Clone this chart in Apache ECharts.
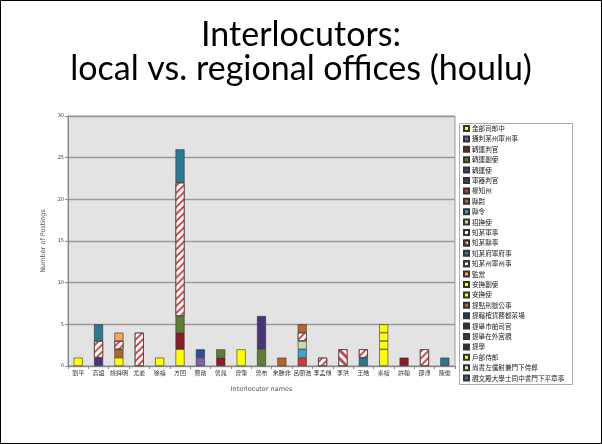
<!DOCTYPE html>
<html>
<head>
<meta charset="utf-8">
<script src="https://cdn.jsdelivr.net/npm/echarts@6/dist/echarts.min.js"></script>
<style>
  html, body { margin: 0; padding: 0; background: #fff; }
  #chart { width: 602px; height: 444px; }
</style>
</head>
<body>
<div id="chart"></div>
<script>
// interlocutors (x axis)
const names = ['劉平', '高誼', '姚舜明', '尤袤', '徐禧', '方回', '曹勛', '曾晁', '曾肇', '曾布',
	'朱勝非', '呂頤浩', '李孟傳', '李洪', '王皓', '秦檜', '許翰', '邵溥', '陳俊'];

// offices (legend, stacked bottom -> top)
const offices = ['金部司郎中', '通判某州軍州事', '轉運判官', '轉運副使', '轉運使', '軍器判官', '權知州',
	'縣尉', '縣令', '招撫使', '知某軍事', '知某縣事', '知某府軍府事', '知某州軍州事', '監當',
	'安撫副使', '安撫使', '提點刑獄公事', '提轄榷貨務都茶場', '提舉市舶司官', '提舉在外宮觀', '提學',
	'戶部侍郎', '尚書左僕射兼門下侍郎', '觀文殿大學士同中書門下平章事'];

const yTicks = [0, 5, 10, 15, 20, 25, 30];

// postings per office, one value per interlocutor
const s01 = [1, 0, 1, 0, 1, 2, 0, 0, 2, 0, 0, 0, 0, 0, 0, 2, 0, 0, 0];
const s02 = [0, 0, 0, 0, 0, 0, 1, 0, 0, 0, 0, 0, 0, 0, 0, 0, 0, 0, 0];
const s03 = [0, 0, 0, 0, 0, 2, 0, 1, 0, 0, 0, 0, 0, 0, 0, 0, 1, 0, 0];
const s04 = [0, 0, 0, 0, 0, 2, 0, 1, 0, 2, 0, 0, 0, 0, 0, 0, 0, 0, 0];
const s05 = [0, 0, 0, 0, 0, 0, 1, 0, 0, 0, 0, 0, 0, 0, 0, 0, 0, 0, 0];
const s06 = [0, 1, 0, 0, 0, 0, 0, 0, 0, 4, 0, 0, 0, 0, 0, 0, 0, 0, 0];
const s07 = [0, 0, 0, 0, 0, 0, 0, 0, 0, 0, 0, 1, 0, 0, 0, 0, 0, 0, 0];
const s08 = [0, 0, 1, 0, 0, 0, 0, 0, 0, 0, 0, 0, 0, 0, 0, 0, 0, 0, 0];
const s09 = [0, 0, 0, 0, 0, 0, 0, 0, 0, 0, 0, 1, 0, 0, 0, 0, 0, 0, 0];
const s10 = [0, 0, 0, 0, 0, 0, 0, 0, 0, 0, 0, 1, 0, 0, 0, 0, 0, 0, 0];
const s11 = [0, 2, 1, 4, 0, 16, 0, 0, 0, 0, 0, 1, 1, 0, 0, 0, 0, 2, 0];
const s12 = [0, 0, 0, 0, 0, 0, 0, 0, 0, 0, 0, 0, 0, 2, 0, 0, 0, 0, 0];
const s13 = [0, 2, 0, 0, 0, 4, 0, 0, 0, 0, 0, 0, 0, 0, 1, 0, 0, 0, 0];
const s14 = [0, 0, 0, 0, 0, 0, 0, 0, 0, 0, 0, 0, 0, 0, 1, 0, 0, 0, 0];
const s15 = [0, 0, 1, 0, 0, 0, 0, 0, 0, 0, 0, 0, 0, 0, 0, 0, 0, 0, 0];
const s16 = [0, 0, 0, 0, 0, 0, 0, 0, 0, 0, 0, 0, 0, 0, 0, 1, 0, 0, 0];
const s17 = [0, 0, 0, 0, 0, 0, 0, 0, 0, 0, 0, 0, 0, 0, 0, 1, 0, 0, 0];
const s18 = [0, 0, 0, 0, 0, 0, 0, 0, 0, 0, 1, 1, 0, 0, 0, 0, 0, 0, 0];
const s19 = [0, 0, 0, 0, 0, 0, 0, 0, 0, 0, 0, 0, 0, 0, 0, 0, 0, 0, 0];
const s20 = [0, 0, 0, 0, 0, 0, 0, 0, 0, 0, 0, 0, 0, 0, 0, 0, 0, 0, 0];
const s21 = [0, 0, 0, 0, 0, 0, 0, 0, 0, 0, 0, 0, 0, 0, 0, 0, 0, 0, 0];
const s22 = [0, 0, 0, 0, 0, 0, 0, 0, 0, 0, 0, 0, 0, 0, 0, 0, 0, 0, 0];
const s23 = [0, 0, 0, 0, 0, 0, 0, 0, 0, 0, 0, 0, 0, 0, 0, 1, 0, 0, 0];
const s24 = [0, 0, 0, 0, 0, 0, 0, 0, 0, 0, 0, 0, 0, 0, 0, 0, 0, 0, 0];
const s25 = [0, 0, 0, 0, 0, 0, 0, 0, 0, 0, 0, 0, 0, 0, 0, 0, 0, 0, 1];

const postings = [s01, s02, s03, s04, s05, s06, s07, s08, s09, s10, s11, s12, s13,
	s14, s15, s16, s17, s18, s19, s20, s21, s22, s23, s24, s25];

const colors = ['#ffff00', '#7f62a8', '#8c1c24', '#5f7d34', '#2e4f8f', '#4a3479', '#d23a3a',
	'#b4672c', '#3aa6d8', '#c6ddab', '#ffffff', '#ffffff', '#2b7a94', '#ffffff', '#f6a55a',
	'#ffff00', '#ffff00', '#b9652f', '#1f3f6f', '#2f2f5f', '#3a3a3a', '#1e2f4f', '#ffff00',
	'#e8e8a0', '#2d7590'];

// red diagonal stripes
const hatchUp = { symbol: 'rect', symbolSize: 1, color: '#d44a4a', dashArrayX: [1, 0], dashArrayY: [2, 2.5], rotation: -Math.PI / 4 };
const hatchDown = { symbol: 'rect', symbolSize: 1, color: '#cc4450', dashArrayX: [1, 0], dashArrayY: [3, 3], rotation: Math.PI / 4 };
const decals = { 10: hatchUp, 11: hatchDown, 13: hatchUp };

const cjk = '"Noto Sans CJK TC", "Noto Sans CJK SC", sans-serif';
const latin = '"DejaVu Sans", sans-serif';

const myChart = echarts.init(document.getElementById('chart'));

const option = {
	backgroundColor: '#fff',
	animation: false,
	title: {
		text: 'Interlocutors:\nlocal vs. regional offices (houlu)',
		left: 'center',
		top: 13,
		textStyle: {
			fontFamily: 'Lato, sans-serif',
			fontSize: 34,
			fontWeight: 'normal',
			lineHeight: 34,
			color: '#000'
		}
	},
	graphic: [
		{
			type: 'rect',
			shape: { x: 0.5, y: 0.5, width: 601, height: 443 },
			style: { fill: 'none', stroke: '#000', lineWidth: 1 },
			silent: true
		},
		{
			type: 'rect',
			shape: { x: 459.5, y: 123.5, width: 113, height: 261 },
			style: { fill: '#fff', stroke: '#aaa', lineWidth: 1 },
			silent: true,
			z: -1
		}
	],
	legend: {
		orient: 'vertical',
		left: 461,
		top: 124,
		padding: [1, 2, 2, 2],
		itemWidth: 5,
		itemHeight: 5,
		itemGap: 3.4,
		icon: 'rect',
		data: offices,
		textStyle: {
			fontFamily: cjk,
			fontSize: 6.6,
			lineHeight: 7,
			color: '#222',
			padding: [0, 0, 0, -2]
		}
	},
	grid: {
		left: 68,
		right: 147,
		top: 116,
		bottom: 78,
		show: true,
		backgroundColor: '#e3e3e3',
		borderColor: '#999',
		borderWidth: 1
	},
	xAxis: {
		type: 'category',
		data: names,
		name: 'Interlocutor names',
		nameLocation: 'middle',
		nameGap: 20,
		nameTextStyle: { fontFamily: latin, fontSize: 6.5, color: '#555' },
		axisLine: { lineStyle: { color: '#888' } },
		axisTick: { show: true, length: 3, lineStyle: { color: '#888' } },
		axisLabel: { interval: 0, fontFamily: cjk, fontSize: 6, color: '#333', margin: 4 }
	},
	yAxis: {
		type: 'value',
		min: yTicks[0],
		max: yTicks[yTicks.length - 1],
		interval: 5,
		name: 'Number of Postings',
		nameLocation: 'middle',
		nameGap: 12,
		nameTextStyle: { fontFamily: latin, fontSize: 6.5, color: '#555' },
		axisLine: { show: true, lineStyle: { color: '#888' } },
		axisTick: { show: true, length: 3, lineStyle: { color: '#888' } },
		axisLabel: { fontFamily: latin, fontSize: 5, color: '#444', margin: 4 },
		splitLine: { lineStyle: { color: '#9a9a9a', width: 1.3 } }
	},
	series: offices.map((office, i) => ({
		name: office,
		type: 'bar',
		stack: 'all',
		barWidth: 9,
		data: postings[i].map(v => v || null),
		itemStyle: {
			color: colors[i],
			borderColor: '#333',
			borderWidth: 0.6,
			decal: decals[i] || null
		}
	}))
};

myChart.setOption(option);
</script>
</body>
</html>
